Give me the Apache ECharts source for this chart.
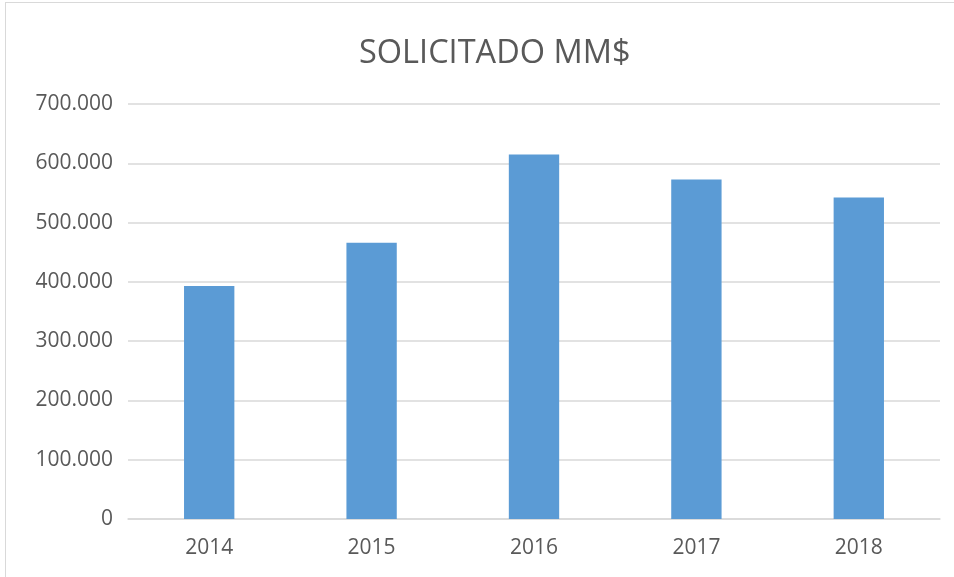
<!DOCTYPE html>
<html>
<head>
	<meta charset="utf-8">
	<title>SOLICITADO MM$</title>
	<style type="text/css">
		html,body{
			margin: 0;
			width: 100%;
			height: 100%;
			background: #fff;
			overflow: hidden;
		}
		#frame{
			position: absolute;
			left: 5px;
			top: 2px;
			width: 960px;
			height: 600px;
			border: 1px solid #d9d9d9;
		}
		#main{
			position: absolute;
			left: 0;
			top: 0;
			width: 954px;
			height: 577px;
		}
	</style>
</head>
<body>
<div id="frame"></div>
<div id="main"></div>

<script src="https://cdn.jsdelivr.net/npm/echarts@6/dist/echarts.min.js"></script>
<script>
    // años (eje x)
    var years = ['2014', '2015', '2016', '2017', '2018'];
    // monto solicitado
    var solicitado = [393000, 466000, 615000, 572500, 542500];

    // formato con punto de miles: 700000 -> 700.000
    function fmt(v) {
        return String(v).replace(/\B(?=(\d{3})+(?!\d))/g, '.');
    }

    var myChart = echarts.init(document.getElementById('main'));
    var option = {
        animation: false,
        textStyle: {
            fontFamily: 'Open Sans'
        },
        title: {
            text: 'SOLICITADO MM$',
            left: 354,
            top: 32,
            textStyle: {
                fontFamily: 'Open Sans',
                fontSize: 32.5,
                fontWeight: 'normal',
                color: '#595959'
            }
        },
        grid: {
            left: 128,
            right: 14,
            top: 104,
            bottom: 58
        },
        xAxis: {
            type: 'category',
            data: years,
            axisLine: { lineStyle: { color: '#d9d9d9', width: 1.5 } },
            axisTick: { show: false },
            axisLabel: {
                color: '#595959',
                fontSize: 21,
                margin: 19
            }
        },
        yAxis: {
            type: 'value',
            min: 0,
            max: 700000,
            interval: 100000,
            axisLine: { show: false },
            axisTick: { show: false },
            splitLine: { lineStyle: { color: '#d9d9d9', width: 1.5 } },
            axisLabel: {
                color: '#595959',
                fontSize: 21,
                margin: 15,
                formatter: fmt
            }
        },
        series: [
            {
                name: 'Solicitado',
                type: 'bar',
                data: solicitado,
                barWidth: '31%',
                itemStyle: { color: '#5b9bd5' }
            }
        ]
    };
    myChart.setOption(option);
</script>

</body>
</html>
